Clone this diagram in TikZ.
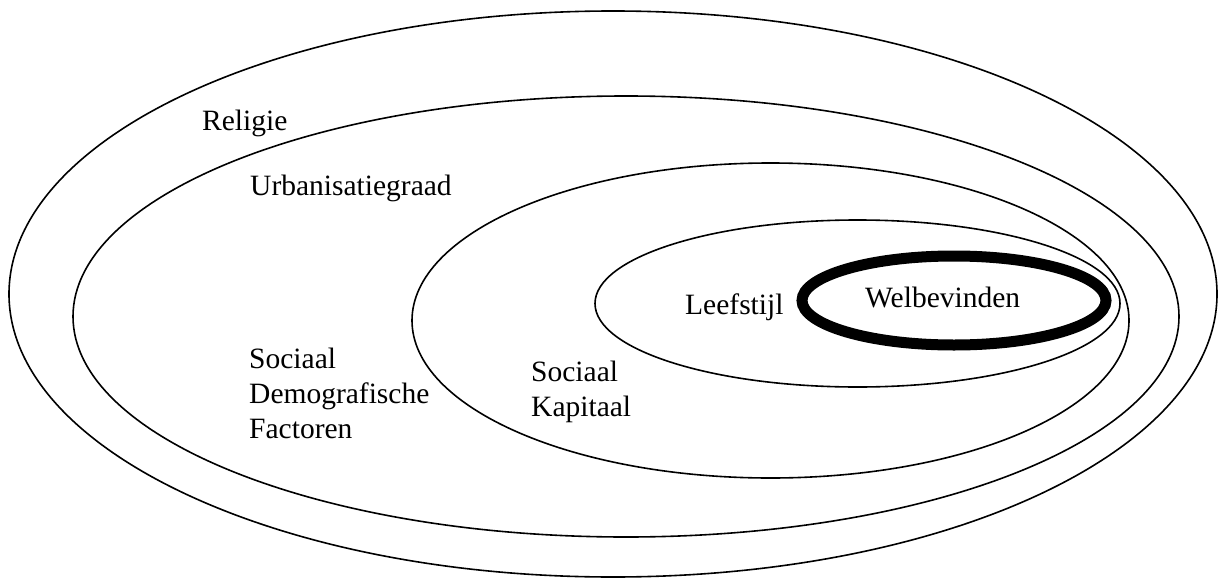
\documentclass[tikz,border=0pt]{standalone}
\usepackage{fontspec}
\setmainfont{Liberation Serif}
\begin{document}
\begin{tikzpicture}[x=1pt,y=-1pt,
  ring/.style={draw=black,line width=1.6pt},
  core/.style={draw=black,line width=11pt},
  lbl/.style={anchor=base west,inner sep=0pt,font=\fontsize{29.5}{35}\selectfont,align=left}]
\useasboundingbox (0,0) rectangle (1220,578);
% rings
\draw[ring] (613,294) ellipse [x radius=604pt, y radius=283pt];
\draw[ring] (626,316.5) ellipse [x radius=553pt, y radius=220.5pt];
\draw[ring] (770.5,320.5) ellipse [x radius=358.5pt, y radius=157.5pt];
\draw[ring] (857.5,303.5) ellipse [x radius=262.5pt, y radius=83.5pt];
\draw[core] (954,300.5) ellipse [x radius=152pt, y radius=44.5pt];
% labels (multi-line nodes anchored at the baseline of their last line)
\node[lbl] (religie) at (202,130) {Religie};
\node[lbl] (urban) at (250,195) {Urbanisatiegraad};
\node[lbl] (sdf) at (249,438) {Sociaal\\Demografische\\Factoren};
\node[lbl] (sk) at (531,416) {Sociaal\\Kapitaal};
\node[lbl] (leef) at (685,314) {Leefstijl};
\node[lbl] (welb) at (865,307) {Welbevinden};
\end{tikzpicture}
\end{document}
